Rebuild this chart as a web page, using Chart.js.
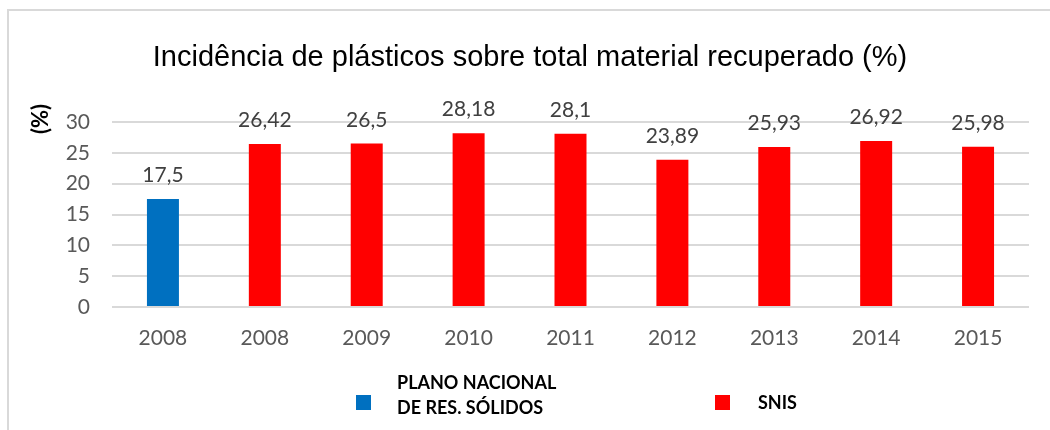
<!DOCTYPE html>
<html>
<head>
<meta charset="utf-8">
<script src="https://cdn.jsdelivr.net/npm/chart.js@4/dist/chart.umd.min.js"></script>
<style>
  html, body { margin: 0; padding: 0; background: #fff; }
  #wrap { position: relative; width: 1050px; height: 430px; overflow: hidden; }
  #frame { position: absolute; left: 7px; top: 9px; right: -4px; bottom: -4px; border-left: 2px solid #d9d9d9; border-top: 2px solid #d9d9d9; }
  #chart { position: absolute; left: 0; top: 0; }
</style>
</head>
<body>
<div id="wrap">
  <div id="frame"></div>
  <canvas id="chart" width="1050" height="430"></canvas>
</div>
<script>
// Dados
const anos = ['2008', '2008', '2009', '2010', '2011', '2012', '2013', '2014', '2015'];
const planoNacional = [17.5, null, null, null, null, null, null, null, null];
const snis = [null, 26.42, 26.5, 28.18, 28.1, 23.89, 25.93, 26.92, 25.98];
const yTicks = [0, 5, 10, 15, 20, 25, 30];
const legendas = [['PLANO NACIONAL', 'DE RES. SÓLIDOS'], ['SNIS']];
const titulo = 'Incidência de plásticos sobre total material recuperado (%)';

const fonte = 'Lato, "Open Sans", sans-serif';

// Rótulos de valor, título, eixo "(%)" e legenda desenhados no canvas
const extras = {
    id: 'extras',
    afterDatasetsDraw(chart) {
        const ctx = chart.ctx;
        ctx.save();
        ctx.fillStyle = '#404040';
        ctx.font = '21px ' + fonte;
        ctx.textAlign = 'center';
        ctx.textBaseline = 'alphabetic';
        chart.data.datasets.forEach((ds, i) => {
            chart.getDatasetMeta(i).data.forEach((bar, j) => {
                const v = ds.data[j];
                if (v == null) return;
                ctx.fillText(String(v).replace('.', ','), bar.x, bar.y - 17);
            });
        });
        ctx.restore();
    },
    afterDraw(chart) {
        const ctx = chart.ctx;
        ctx.save();
        // título
        ctx.fillStyle = '#000';
        ctx.font = '29px "Liberation Sans", Arial, sans-serif';
        ctx.textAlign = 'center';
        ctx.textBaseline = 'alphabetic';
        ctx.fillText(titulo, 530, 66);

        // unidade do eixo y
        ctx.save();
        ctx.translate(41, 119);
        ctx.rotate(-Math.PI / 2);
        ctx.font = 'bold 22px ' + fonte;
        ctx.textAlign = 'center';
        ctx.textBaseline = 'middle';
        ctx.fillText('(%)', 0, 0);
        ctx.restore();

        // legenda
        const pos = [{ x: 356, tx: 397 }, { x: 715, tx: 758 }];
        ctx.font = 'bold 18px ' + fonte;
        ctx.textAlign = 'left';
        chart.data.datasets.forEach((ds, i) => {
            const p = pos[i];
            ctx.fillStyle = ds.backgroundColor;
            ctx.fillRect(p.x, 395, 15, 15);
            ctx.fillStyle = '#000';
            const linhas = legendas[i];
            if (linhas.length === 2) {
                ctx.fillText(linhas[0], p.tx, 389);
                ctx.fillText(linhas[1], p.tx, 414);
            } else {
                ctx.fillText(linhas[0], p.tx, 409);
            }
        });
        ctx.restore();
    }
};

new Chart(document.getElementById('chart'), {
    type: 'bar',
    data: {
        labels: anos,
        datasets: [
            {
                label: legendas[0].join(' '),
                data: planoNacional,
                backgroundColor: '#0070c0',
                barPercentage: 0.314,
                categoryPercentage: 1
            },
            {
                label: legendas[1].join(' '),
                data: snis,
                backgroundColor: '#ff0000',
                barPercentage: 0.314,
                categoryPercentage: 1
            }
        ]
    },
    options: {
        responsive: false,
        animation: false,
        grouped: false,
        layout: { padding: { left: 10, right: 21, top: 122, bottom: 63 } },
        plugins: {
            legend: { display: false },
            title: { display: false },
            tooltip: { enabled: false }
        },
        scales: {
            x: {
                grid: { display: false },
                border: { display: false },
                ticks: { color: '#595959', font: { family: fonte, size: 21 }, padding: 11 },
                afterFit(scale) { scale.height = 60; }
            },
            y: {
                min: 0,
                max: 30,
                afterBuildTicks(scale) { scale.ticks = yTicks.map(v => ({ value: v })); },
                grid: { color: '#d9d9d9', lineWidth: 2, drawTicks: false },
                border: { display: false },
                ticks: { color: '#595959', font: { family: fonte, size: 21 }, padding: 22 },
                afterFit(scale) { scale.width = 102; }
            }
        }
    },
    plugins: [extras]
});
</script>
</body>
</html>
